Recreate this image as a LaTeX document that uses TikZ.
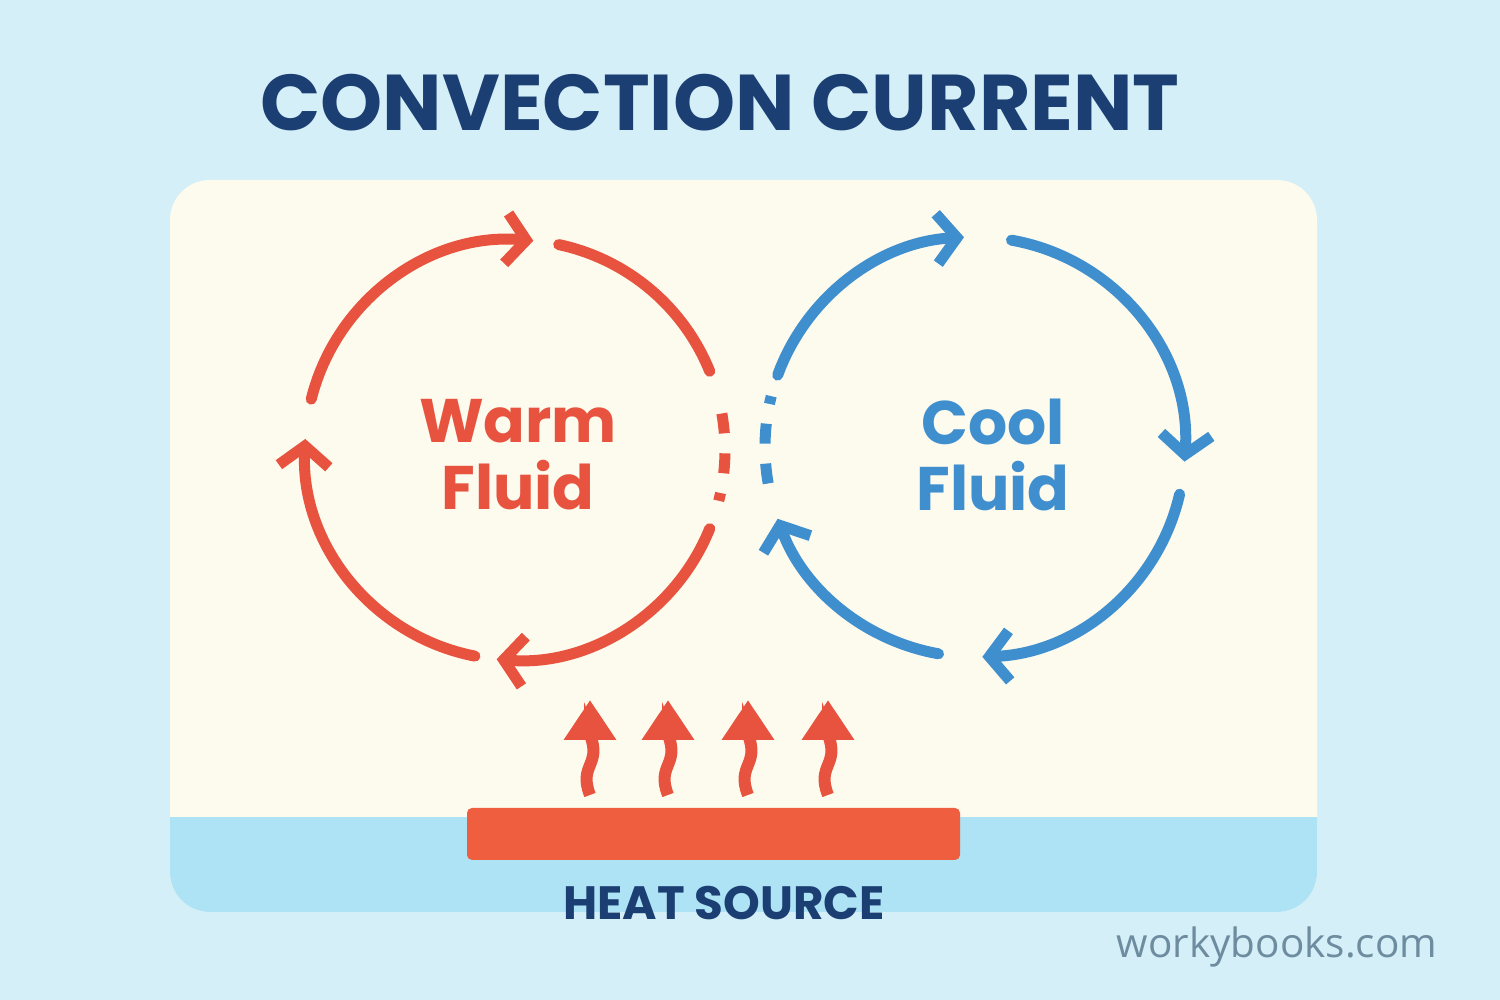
\documentclass[tikz,border=0pt]{standalone}
\usepackage{fontspec}
\setmainfont{Poppins}
\newfontfamily\markfont{Open Sans}
\usetikzlibrary{arrows.meta}
\definecolor{skybg}{HTML}{D4EFF7}
\definecolor{panel}{HTML}{FDFAEE}
\definecolor{band}{HTML}{AEE2F5}
\definecolor{navy}{HTML}{1B3F73}
\definecolor{warm}{HTML}{E8533F}
\definecolor{cool}{HTML}{3F8FCF}
\definecolor{plate}{HTML}{EF5F3F}
\definecolor{markgray}{HTML}{6E8CA0}
\tikzset{
  loopline/.style={line width=0.11cm, line cap=round},
  chev/.style={-{Straight Barb[length=0.2cm,width=0.5cm,line width=0.11cm]}},
  heat/.style={warm, line width=0.12cm, -{Triangle[length=0.4cm,width=0.5cm]}},
  label/.style={font=\bfseries\fontsize{17.5}{19}\selectfont, align=center}
}
\begin{document}
\begin{tikzpicture}
\fill[skybg] (0,0) rectangle (15,10);
\useasboundingbox (0,0) rectangle (15,10);
% panel and lower band
\fill[panel, rounded corners=0.4cm] (1.7,0.88) rectangle (13.17,8.2);
\begin{scope}
\clip (1.7,0.88) rectangle (13.17,1.82);
\fill[band, rounded corners=0.4cm] (1.7,0.88) rectangle (13.17,8.2);
\end{scope}
\node[font=\bfseries\fontsize{22.5}{26}\selectfont, navy] (title) at (7.2,8.97) {CONVECTION CURRENT};
% heat source
\node[fill=plate, rounded corners=0.05cm, minimum width=4.93cm, minimum height=0.52cm, inner sep=0pt] (plate) at (7.135,1.66) {};
\node[font=\bfseries\fontsize{13.3}{16}\selectfont, navy] (source) at (7.24,0.97) {HEAT SOURCE};
\foreach \x [count=\i] in {5.9,6.68,7.48,8.28} {
  \coordinate (h\i) at (\x,2.05);
  \coordinate (t\i) at (\x,3.0);
  \draw[heat] (h\i) .. controls ++(-0.12,0.3) and ++(0.12,-0.3) .. ++(0,0.6) -- (t\i);
}
% warm loop
\coordinate (wc) at (5.15,5.5);
\begin{scope}[warm, loopline]
\draw[chev] ([shift={(166:2.1)}]wc) arc[start angle=166, end angle=85, radius=2.1];
\draw ([shift={(78:2.1)}]wc) arc[start angle=78, end angle=22, radius=2.1];
\draw[dash pattern=on 0.2cm off 0.2cm, line cap=butt] ([shift={(10:2.1)}]wc) arc[start angle=10, end angle=-14, radius=2.1];
\draw[chev] ([shift={(-22:2.1)}]wc) arc[start angle=-22, end angle=-95, radius=2.1];
\draw[chev] ([shift={(-101:2.1)}]wc) arc[start angle=-101, end angle=-183, radius=2.1];
\end{scope}
\node[label, warm] (warmtxt) at (5.18,5.45) {Warm\\Fluid};
% cool loop
\coordinate (cc) at (9.75,5.53);
\begin{scope}[cool, loopline]
\draw[chev] ([shift={(160:2.1)}]cc) arc[start angle=160, end angle=93, radius=2.1];
\draw[chev] ([shift={(80:2.1)}]cc) arc[start angle=80, end angle=-4, radius=2.1];
\draw[chev] ([shift={(-13:2.1)}]cc) arc[start angle=-13, end angle=-88, radius=2.1];
\draw[chev] ([shift={(-100:2.1)}]cc) arc[start angle=-100, end angle=-160, radius=2.1];
\draw[dash pattern=on 0.2cm off 0.2cm, line cap=butt] ([shift={(-170:2.1)}]cc) arc[start angle=-170, end angle=-194, radius=2.1];
\end{scope}
\node[label, cool] (cooltxt) at (9.93,5.45) {Cool\\Fluid};
\node[font=\markfont\fontsize{11.5}{13}\selectfont, markgray] (site) at (12.77,0.53) {workybooks.com};
\end{tikzpicture}
\end{document}
